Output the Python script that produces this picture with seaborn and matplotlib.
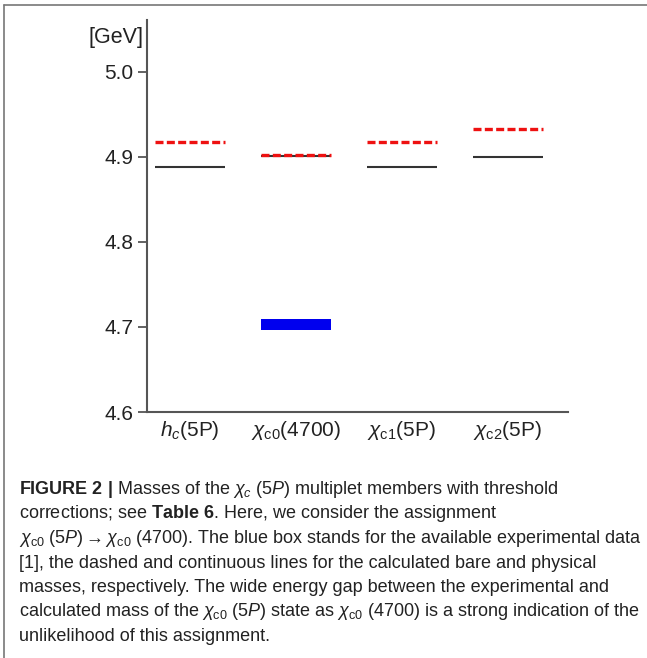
import matplotlib
matplotlib.use("Agg")
import matplotlib.pyplot as plt
import seaborn as sns
import numpy as np
import pandas as pd

# ---- data ----
categories = [r"$h_c$(5P)", r"$\chi_{\mathrm{c0}}$(4700)", r"$\chi_{\mathrm{c1}}$(5P)", r"$\chi_{\mathrm{c2}}$(5P)"]
bare_mass = [4.918, 4.902, 4.918, 4.933]        # red dashed
physical_mass = [4.888, 4.901, 4.888, 4.900]    # black solid
exp_low = [np.nan, 4.697, np.nan, np.nan]       # blue box
exp_high = [np.nan, 4.709, np.nan, np.nan]
yticks = [4.6, 4.7, 4.8, 4.9, 5.0]
ytick_labels = ["4.6", "4.7", "4.8", "4.9", "5.0"]

caption_lines = [
    r"$\mathbf{FIGURE\ 2\ |}$ Masses of the $\chi_c$ (5$P$) multiplet members with threshold",
    r"corrections; see $\mathbf{Table\ 6}$. Here, we consider the assignment",
    r"$\chi_{\mathrm{c0}}$ (5$P$)$\rightarrow\chi_{\mathrm{c0}}$ (4700). The blue box stands for the available experimental data",
    r"[1], the dashed and continuous lines for the calculated bare and physical",
    r"masses, respectively. The wide energy gap between the experimental and",
    r"calculated mass of the $\chi_{\mathrm{c0}}$ (5$P$) state as $\chi_{\mathrm{c0}}$ (4700) is a strong indication of the",
    r"unlikelihood of this assignment.",
]

df = pd.DataFrame({"cat": categories, "bare": bare_mass, "phys": physical_mass,
                   "lo": exp_low, "hi": exp_high})
df["pos"] = np.arange(len(df))

sns.set_theme(style="ticks")
plt.rcParams["font.family"] = ["Liberation Sans", "DejaVu Sans"]
plt.rcParams["mathtext.fontset"] = "custom"
plt.rcParams["mathtext.rm"] = "Liberation Sans"
plt.rcParams["mathtext.it"] = "Liberation Sans:italic"
plt.rcParams["mathtext.bf"] = "Liberation Sans:bold"

W, H = 647, 658
fig = plt.figure(figsize=(W / 100, H / 100), dpi=100)
ax = fig.add_axes([147 / W, 1 - 412 / H, (568 - 147) / W, (412 - 20) / H])

hw = 0.33
# experimental box
m = df["lo"].notna()
ax.bar(df.loc[m, "pos"], (df.loc[m, "hi"] - df.loc[m, "lo"]), bottom=df.loc[m, "lo"],
       width=2 * hw, color="#0000ee", edgecolor="none", zorder=2)
# physical masses
ax.hlines(df["phys"], df["pos"] - hw, df["pos"] + hw, colors="#333333", linewidth=1.5, zorder=3)
# bare masses
ax.hlines(df["bare"], df["pos"] - hw, df["pos"] + hw, colors="#ee1111", linewidth=2.4,
          linestyles=(0, (2.4, 1.0)), zorder=4)

ax.set_xlim(-0.405, 3.57)
ax.set_ylim(4.6, 5.061)
ax.set_yticks(yticks)
ax.set_yticklabels(ytick_labels)
ax.set_xticks(df["pos"])
ax.set_xticklabels(df["cat"])
sns.despine(ax=ax)
for s in ["left", "bottom"]:
    ax.spines[s].set_color("#555555")
    ax.spines[s].set_linewidth(1.5)
ax.tick_params(axis="y", length=6.5, width=1.3, color="#555555", labelsize=15,
               labelcolor="#222222", pad=3.5)
ax.tick_params(axis="x", length=0, labelsize=15, labelcolor="#222222", pad=5)
ax.set_ylabel("")
ax.set_xlabel("")

fig.text(143 / W, 1 - 38 / H, "[GeV]", ha="right", va="center", fontsize=15.5, color="#222222")

# caption
for i, line in enumerate(caption_lines):
    yb = 494 + 24.5 * i
    fig.text(19 / W, 1 - yb / H, line, ha="left", va="baseline", fontsize=13, color="#222222")

# frame lines
fig.add_artist(plt.Line2D([4 / W, 1], [1 - 5 / H, 1 - 5 / H], color="#777777", linewidth=1.2,
                          transform=fig.transFigure))
fig.add_artist(plt.Line2D([4 / W, 4 / W], [0, 1 - 5 / H], color="#777777", linewidth=1.2,
                          transform=fig.transFigure))

fig.savefig("out.png", dpi=100)
